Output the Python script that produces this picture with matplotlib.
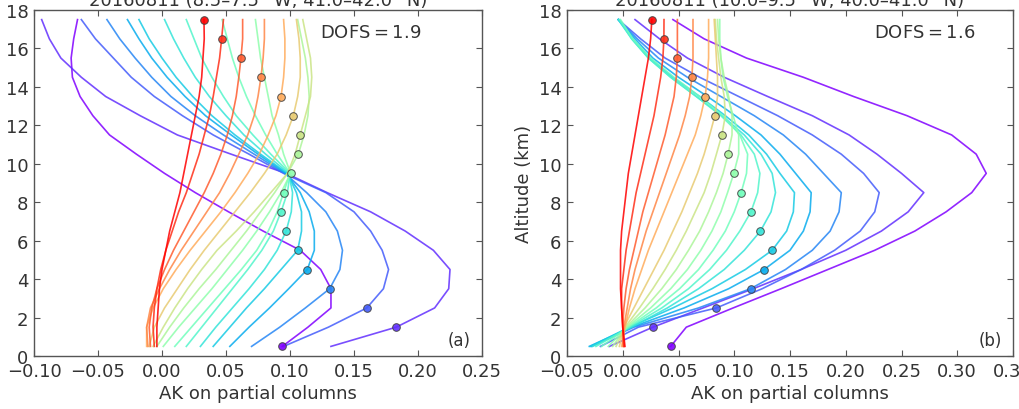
import matplotlib
matplotlib.use("Agg")
import matplotlib.pyplot as plt
from matplotlib import cm

# ---------------- data ----------------
altitude = [0.5, 1.5, 2.5, 3.5, 4.5, 5.5, 6.5, 7.5, 8.5, 9.5,
            10.5, 11.5, 12.5, 13.5, 14.5, 15.5, 16.5, 17.5]

titles = ["20160811 (8.5\u20137.5\u00b0 W, 41.0\u201342.0\u00b0 N)",
          "20160811 (10.0\u20139.5\u00b0 W, 40.0\u201341.0\u00b0 N)"]
dofs = [1.9, 1.6]
panel_tags = ["(a)", "(b)"]
xticks_a = [-0.10, -0.05, 0.00, 0.05, 0.10, 0.15, 0.20, 0.25]
xticks_b = [-0.05, 0.00, 0.05, 0.10, 0.15, 0.20, 0.25, 0.30, 0.35]
yticks = [0, 2, 4, 6, 8, 10, 12, 14, 16, 18]

# panel (a): averaging-kernel rows, one per retrieval layer (0.5 ... 17.5 km)
a0 = [0.094, 0.114, 0.132, 0.132, 0.124, 0.108, 0.079, 0.052, 0.026, 0.002, -0.020, -0.041, -0.054, -0.064, -0.070, -0.071, -0.069, -0.066]
a1 = [0.132, 0.183, 0.213, 0.224, 0.225, 0.212, 0.190, 0.163, 0.129, 0.097, 0.054, 0.012, -0.017, -0.044, -0.063, -0.079, -0.088, -0.094]
a2 = [0.095, 0.130, 0.160, 0.173, 0.177, 0.172, 0.163, 0.150, 0.128, 0.095, 0.068, 0.040, 0.016, -0.006, -0.024, -0.038, -0.052, -0.063]
a3 = [0.070, 0.092, 0.112, 0.131, 0.139, 0.141, 0.137, 0.128, 0.113, 0.096, 0.072, 0.048, 0.026, 0.007, -0.008, -0.021, -0.033, -0.043]
a4 = [0.053, 0.068, 0.084, 0.099, 0.1135, 0.119, 0.119, 0.115, 0.108, 0.097, 0.075, 0.054, 0.034, 0.018, 0.004, -0.008, -0.018, -0.027]
a5 = [0.040, 0.053, 0.066, 0.080, 0.093, 0.106, 0.109, 0.109, 0.105, 0.098, 0.077, 0.057, 0.039, 0.024, 0.011, 0.000, -0.010, -0.018]
a6 = [0.030, 0.042, 0.055, 0.068, 0.080, 0.090, 0.097, 0.101, 0.102, 0.099, 0.081, 0.064, 0.050, 0.037, 0.026, 0.017, 0.009, 0.002]
a7 = [0.019, 0.031, 0.043, 0.055, 0.067, 0.078, 0.087, 0.093, 0.098, 0.100, 0.085, 0.071, 0.058, 0.048, 0.039, 0.031, 0.025, 0.019]
a8 = [0.010, 0.023, 0.036, 0.049, 0.062, 0.074, 0.083, 0.090, 0.095, 0.100, 0.090, 0.081, 0.073, 0.066, 0.060, 0.055, 0.051, 0.047]
a9 = [0.001, 0.013, 0.026, 0.039, 0.051, 0.063, 0.074, 0.084, 0.093, 0.1005, 0.095, 0.091, 0.086, 0.083, 0.080, 0.077, 0.075, 0.073]
a10 = [-0.004, 0.006, 0.017, 0.029, 0.042, 0.054, 0.066, 0.077, 0.088, 0.098, 0.1065, 0.111, 0.114, 0.115, 0.114, 0.112, 0.109, 0.106]
a11 = [-0.007, 0.001, 0.010, 0.020, 0.031, 0.043, 0.058, 0.072, 0.085, 0.098, 0.104, 0.108, 0.112, 0.116, 0.117, 0.116, 0.113, 0.110]
a12 = [-0.010, -0.006, 0.002, 0.012, 0.022, 0.033, 0.045, 0.057, 0.069, 0.080, 0.090, 0.097, 0.1026, 0.106, 0.108, 0.108, 0.107, 0.105]
a13 = [-0.012, -0.012, -0.007, 0.001, 0.011, 0.022, 0.034, 0.046, 0.057, 0.067, 0.076, 0.083, 0.089, 0.093, 0.095, 0.096, 0.096, 0.095]
a14 = [-0.011, -0.012, -0.009, -0.002, 0.006, 0.015, 0.025, 0.035, 0.045, 0.053, 0.060, 0.067, 0.072, 0.075, 0.0773, 0.079, 0.080, 0.080]
a15 = [-0.009, -0.010, -0.008, -0.004, 0.002, 0.009, 0.017, 0.025, 0.033, 0.040, 0.046, 0.051, 0.055, 0.058, 0.060, 0.0617, 0.063, 0.063]
a16 = [-0.006, -0.007, -0.006, -0.004, -0.001, 0.003, 0.008, 0.013, 0.019, 0.024, 0.029, 0.033, 0.037, 0.040, 0.0425, 0.045, 0.0466, 0.048]
a17 = [-0.004, -0.004, -0.003, -0.002, 0.000, 0.003, 0.006, 0.010, 0.014, 0.017, 0.020, 0.023, 0.026, 0.029, 0.031, 0.032, 0.033, 0.0328]

# panel (b)
b0 = [0.043, 0.057, 0.099, 0.142, 0.184, 0.226, 0.262, 0.290, 0.313, 0.326, 0.317, 0.295, 0.255, 0.207, 0.162, 0.111, 0.073, 0.045]
b1 = [-0.012, 0.027, 0.072, 0.117, 0.160, 0.200, 0.232, 0.256, 0.270, 0.250, 0.228, 0.203, 0.170, 0.130, 0.091, 0.058, 0.033, 0.011]
b2 = [-0.020, 0.014, 0.084, 0.125, 0.160, 0.190, 0.213, 0.226, 0.230, 0.216, 0.196, 0.170, 0.139, 0.104, 0.069, 0.038, 0.016, -0.004]
b3 = [-0.028, 0.010, 0.068, 0.1146, 0.146, 0.170, 0.186, 0.194, 0.196, 0.180, 0.164, 0.144, 0.118, 0.088, 0.058, 0.032, 0.013, -0.004]
b4 = [-0.030, 0.008, 0.055, 0.095, 0.1268, 0.150, 0.162, 0.168, 0.169, 0.155, 0.141, 0.124, 0.101, 0.076, 0.050, 0.027, 0.011, -0.004]
b5 = [-0.029, 0.006, 0.045, 0.080, 0.110, 0.134, 0.147, 0.153, 0.154, 0.141, 0.129, 0.113, 0.092, 0.069, 0.045, 0.024, 0.009, -0.004]
b6 = [-0.027, 0.008, 0.040, 0.068, 0.091, 0.109, 0.1235, 0.133, 0.137, 0.134, 0.124, 0.109, 0.089, 0.066, 0.043, 0.023, 0.008, -0.004]
b7 = [-0.024, 0.006, 0.035, 0.059, 0.078, 0.093, 0.105, 0.115, 0.121, 0.123, 0.118, 0.106, 0.088, 0.066, 0.043, 0.023, 0.008, -0.003]
b8 = [-0.019, 0.005, 0.030, 0.051, 0.068, 0.081, 0.092, 0.100, 0.1062, 0.111, 0.112, 0.105, 0.090, 0.069, 0.046, 0.025, 0.009, -0.002]
b9 = [-0.013, 0.004, 0.025, 0.043, 0.058, 0.070, 0.080, 0.088, 0.094, 0.0996, 0.104, 0.104, 0.099, 0.094, 0.090, 0.088, 0.087, 0.087]
b10 = [-0.009, 0.003, 0.020, 0.035, 0.048, 0.059, 0.069, 0.077, 0.084, 0.090, 0.0945, 0.098, 0.098, 0.095, 0.091, 0.088, 0.086, 0.085]
b11 = [-0.006, 0.002, 0.015, 0.027, 0.038, 0.048, 0.057, 0.065, 0.073, 0.079, 0.084, 0.0889, 0.092, 0.091, 0.088, 0.086, 0.084, 0.083]
b12 = [-0.003, 0.001, 0.010, 0.019, 0.028, 0.037, 0.045, 0.053, 0.060, 0.067, 0.073, 0.078, 0.0826, 0.085, 0.085, 0.084, 0.083, 0.082]
b13 = [-0.001, 0.002, 0.006, 0.011, 0.017, 0.023, 0.030, 0.037, 0.044, 0.051, 0.058, 0.065, 0.070, 0.0739, 0.076, 0.077, 0.077, 0.077]
b14 = [0.000, 0.001, 0.004, 0.007, 0.011, 0.016, 0.021, 0.027, 0.033, 0.039, 0.045, 0.051, 0.056, 0.060, 0.062, 0.063, 0.063, 0.063]
b15 = [0.001, 0.000, 0.001, 0.003, 0.006, 0.010, 0.014, 0.018, 0.023, 0.028, 0.033, 0.038, 0.042, 0.046, 0.048, 0.049, 0.049, 0.049]
b16 = [0.001, 0.000, -0.001, -0.001, 0.001, 0.003, 0.006, 0.009, 0.012, 0.016, 0.020, 0.024, 0.028, 0.031, 0.034, 0.036, 0.0369, 0.037]
b17 = [0.002, 0.000, -0.001, -0.002, -0.002, -0.002, -0.001, 0.001, 0.003, 0.005, 0.008, 0.011, 0.014, 0.017, 0.020, 0.023, 0.025, 0.0261]

ak_a = [a0, a1, a2, a3, a4, a5, a6, a7, a8, a9, a10, a11, a12, a13, a14, a15, a16, a17]
ak_b = [b0, b1, b2, b3, b4, b5, b6, b7, b8, b9, b10, b11, b12, b13, b14, b15, b16, b17]

# ---------------- figure ----------------
plt.rcParams['font.family'] = ['DejaVu Sans']
TXT = '#333333'
SPINE = '#555555'

fig = plt.figure(figsize=(10.2, 4.1), dpi=100)
ax_a = fig.add_axes([34 / 1020, 53 / 410, 448 / 1020, 346 / 410])
ax_b = fig.add_axes([567 / 1020, 53 / 410, 446 / 1020, 346 / 410])

cmap = plt.get_cmap('rainbow')
n = len(altitude)

setups = [
    (ax_a, ak_a, (-0.10, 0.25), xticks_a, 0.638),
    (ax_b, ak_b, (-0.05, 0.35), xticks_b, 0.688),
]

for k, (ax, rows, xlim, xt, dofs_x) in enumerate(setups):
    for i, row in enumerate(rows):
        c = cmap(i / (n - 1))
        ax.plot(row, altitude, color=c, lw=1.2, alpha=0.85, zorder=2)
        ax.plot([row[i]], [altitude[i]], 'o', ms=5.5, mfc=c, mec=(0.25, 0.25, 0.25, 0.7),
                mew=0.7, alpha=0.9, zorder=3)
    ax.set_xlim(*xlim)
    ax.set_ylim(0, 18)
    ax.set_xticks(xt)
    ax.set_yticks(yticks)
    ax.tick_params(direction='in', top=True, right=True, length=4, width=0.8,
                   labelsize=13, colors=SPINE, labelcolor=TXT, pad=4)
    for s in ax.spines.values():
        s.set_color(SPINE)
        s.set_linewidth(1.0)
    ax.set_xlabel('AK on partial columns', fontsize=13, color=TXT, labelpad=3)
    ax.set_ylabel('Altitude (km)', fontsize=13, color=TXT, labelpad=4)
    ax.set_title(titles[k], fontsize=13, color=TXT, pad=3.5)
    ax.text(dofs_x, 0.936, 'DOFS$=$%.1f' % dofs[k], transform=ax.transAxes,
            fontsize=13, color=TXT, ha='left', va='center')
    ax.text(0.975, 0.045, panel_tags[k], transform=ax.transAxes,
            fontsize=12, color=TXT, ha='right', va='center')

fig.savefig('out.png', dpi=100)
